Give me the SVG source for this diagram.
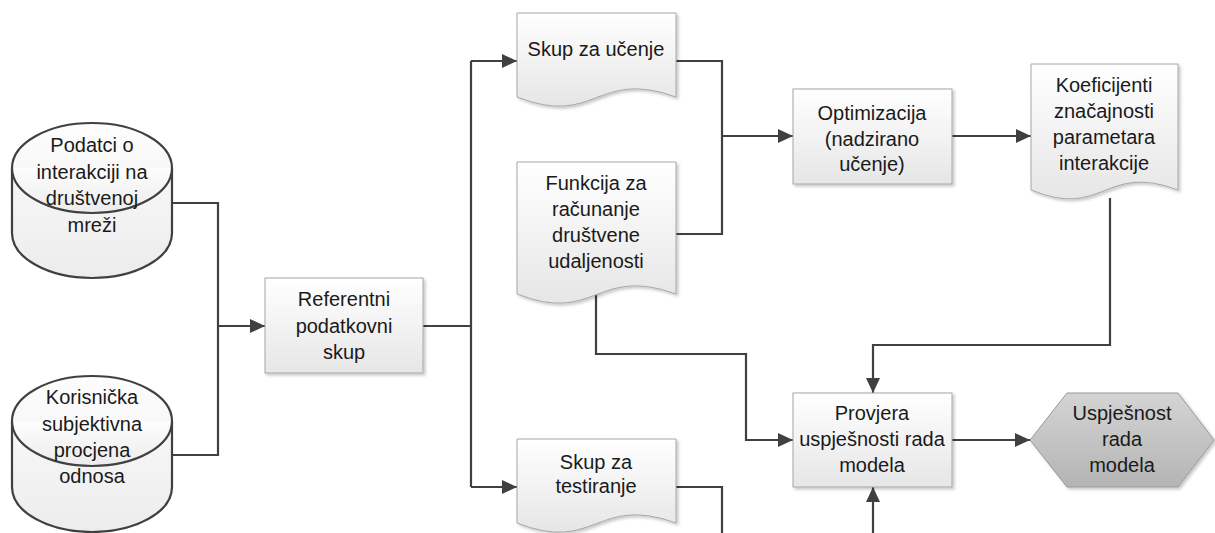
<svg xmlns="http://www.w3.org/2000/svg" width="1215" height="533" viewBox="0 0 1215 533">
<style>
  .lbl{font-family:"Liberation Sans",Arial,sans-serif;font-size:20px;fill:#1a1a1a;text-anchor:middle}
  .box{fill:url(#gBox);stroke:#a6a6a6;stroke-width:1;filter:url(#sh)}
  .doc{fill:url(#gBox);stroke:#a6a6a6;stroke-width:1;filter:url(#sh)}
  .cyl{fill:url(#gCyl);stroke:#404040;stroke-width:2.2}
  .hex{fill:url(#gHex);stroke:#999;stroke-width:1;filter:url(#sh)}
  .con{fill:none;stroke:#404040;stroke-width:2.2}
</style>
<defs>
  <linearGradient id="gBox" x1="0" y1="0" x2="0" y2="1">
    <stop offset="0" stop-color="#ffffff"/>
    <stop offset="1" stop-color="#e6e6e6"/>
  </linearGradient>
  <linearGradient id="gCyl" x1="0" y1="0" x2="0" y2="1">
    <stop offset="0" stop-color="#fdfdfd"/>
    <stop offset="1" stop-color="#ececec"/>
  </linearGradient>
  <linearGradient id="gHex" x1="0" y1="0" x2="0" y2="1">
    <stop offset="0" stop-color="#d4d4d4"/>
    <stop offset="1" stop-color="#b4b4b4"/>
  </linearGradient>
  <filter id="sh" x="-10%" y="-10%" width="130%" height="130%">
    <feDropShadow dx="2" dy="2" stdDeviation="1.5" flood-color="#000" flood-opacity="0.22"/>
  </filter>
  <marker id="arr" markerUnits="userSpaceOnUse" markerWidth="16" markerHeight="14" refX="15" refY="7" orient="auto">
    <path d="M0,0 L15,7 L0,14 Z" fill="#404040"/>
  </marker>
</defs>

<g id="connectors">
  <path class="con" d="M172,203 H218 V455 H172"/>
  <path class="con" d="M218,326 H265" marker-end="url(#arr)"/>
  <path class="con" d="M423,326 H471"/>
  <path class="con" d="M471,61 V487"/>
  <path class="con" d="M471,61 H517" marker-end="url(#arr)"/>
  <path class="con" d="M471,487 H517" marker-end="url(#arr)"/>
  <path class="con" d="M676,61 H722 V234 H676"/>
  <path class="con" d="M722,136 H793" marker-end="url(#arr)"/>
  <path class="con" d="M952,136 H1031" marker-end="url(#arr)"/>
  <path class="con" d="M1110,198 V345 H873 V393" marker-end="url(#arr)"/>
  <path class="con" d="M596,293 V354 H746 V440 H793" marker-end="url(#arr)"/>
  <path class="con" d="M676,487 H722 V533"/>
  <path class="con" d="M873,533 V487" marker-end="url(#arr)"/>
  <path class="con" d="M952,440 H1030" marker-end="url(#arr)"/>
</g>

<g id="podatci">
  <path class="cyl" d="M12,168 A80,45 0 0 1 172,168 V233 A80,45 0 0 1 12,233 Z"/>
  <path class="cyl" fill="none" d="M12,168 A80,45 0 0 0 172,168"/>
  <text class="lbl" x="92" y="152">Podatci o</text>
  <text class="lbl" x="92" y="179">interakciji na</text>
  <text class="lbl" x="92" y="205">društvenoj</text>
  <text class="lbl" x="92" y="232">mreži</text>
</g>

<g id="korisnicka">
  <path class="cyl" d="M12,421 A80,45 0 0 1 172,421 V487 A80,45 0 0 1 12,487 Z"/>
  <path class="cyl" fill="none" d="M12,421 A80,45 0 0 0 172,421"/>
  <text class="lbl" x="92" y="404">Korisnička</text>
  <text class="lbl" x="92" y="431">subjektivna</text>
  <text class="lbl" x="92" y="457">procjena</text>
  <text class="lbl" x="92" y="483">odnosa</text>
</g>

<g id="referentni">
  <rect class="box" x="265" y="278" width="158" height="95"/>
  <text class="lbl" x="344" y="306">Referentni</text>
  <text class="lbl" x="344" y="333">podatkovni</text>
  <text class="lbl" x="344" y="359">skup</text>
</g>

<g id="skup-ucenje">
  <path class="doc" d="M517,13 H676 V97 C596,68 596,128 517,97 Z"/>
  <text class="lbl" x="596" y="56">Skup za učenje</text>
</g>

<g id="funkcija">
  <path class="doc" d="M517,162 H676 V294 C596,265 596,325 517,294 Z"/>
  <text class="lbl" x="596" y="190">Funkcija za</text>
  <text class="lbl" x="596" y="216">računanje</text>
  <text class="lbl" x="596" y="242">društvene</text>
  <text class="lbl" x="596" y="268">udaljenosti</text>
</g>

<g id="skup-testiranje">
  <path class="doc" d="M517,439 H676 V523 C596,494 596,554 517,523 Z"/>
  <text class="lbl" x="596" y="469">Skup za</text>
  <text class="lbl" x="596" y="493">testiranje</text>
</g>

<g id="optimizacija">
  <rect class="box" x="793" y="89" width="159" height="95"/>
  <text class="lbl" x="872" y="120">Optimizacija</text>
  <text class="lbl" x="872" y="146">(nadzirano</text>
  <text class="lbl" x="872" y="171">učenje)</text>
</g>

<g id="koeficijenti">
  <path class="doc" d="M1031,64 H1178 V190 C1104,162 1104,220 1031,190 Z"/>
  <text class="lbl" x="1104" y="92">Koeficijenti</text>
  <text class="lbl" x="1104" y="118">značajnosti</text>
  <text class="lbl" x="1104" y="144">parametara</text>
  <text class="lbl" x="1104" y="170">interakcije</text>
</g>

<g id="provjera">
  <rect class="box" x="793" y="393" width="159" height="94"/>
  <text class="lbl" x="872" y="420">Provjera</text>
  <text class="lbl" x="872" y="446">uspješnosti rada</text>
  <text class="lbl" x="872" y="472">modela</text>
</g>

<g id="uspjesnost">
  <polygon class="hex" points="1030,440 1067,393 1178,393 1214,440 1178,487 1067,487"/>
  <text class="lbl" x="1122" y="420">Uspješnost</text>
  <text class="lbl" x="1122" y="446">rada</text>
  <text class="lbl" x="1122" y="472">modela</text>
</g>
</svg>
